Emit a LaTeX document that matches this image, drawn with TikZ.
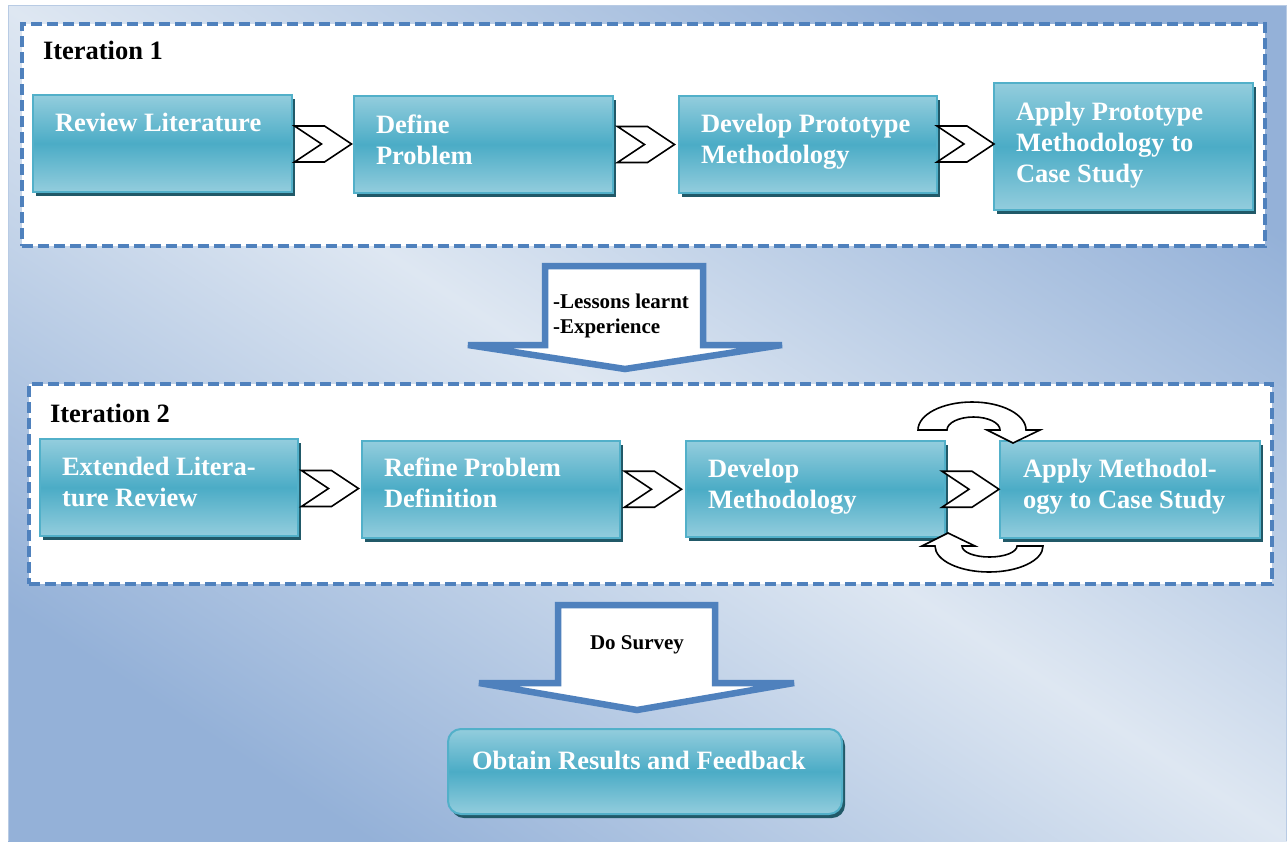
\documentclass[tikz,border=0pt]{standalone}
\usepackage{fontspec}
\setmainfont{Liberation Serif}
\usetikzlibrary{shadows,calc}
\definecolor{bgdark}{HTML}{94B1D8}
\definecolor{bglight}{HTML}{DEE7F2}
\definecolor{bgedge}{HTML}{B8CBE4}
\definecolor{frameblue}{HTML}{4F81BD}
\definecolor{boxlight}{HTML}{93CDDD}
\definecolor{boxmid}{HTML}{4BACC6}
\definecolor{boxedge}{HTML}{52B0C9}
\definecolor{boxshadow}{HTML}{215968}
\begin{document}
\begin{tikzpicture}[x=1pt,y=-1pt,
  every node/.style={inner sep=0pt, outer sep=0pt},
  iterframe/.style={draw=frameblue, fill=white, line width=3.2pt, dash pattern=on 11pt off 5pt, anchor=north west},
  stepbox/.style={draw=boxedge, line width=2pt, top color=boxlight, bottom color=boxlight, middle color=boxmid, anchor=north west,
    drop shadow={shadow xshift=3pt, shadow yshift=-4pt, fill=boxshadow, opacity=1}},
  boxtext/.style={anchor=north west, text=white, align=left, font=\bfseries\fontsize{26.5}{31}\selectfont},
  itertext/.style={anchor=base west, text=black, font=\bfseries\fontsize{26.5}{31}\selectfont},
  arrowtext/.style={text=black, align=left, font=\bfseries\fontsize{21}{25}\selectfont},
  chevron/.style={draw=black, fill=white, line width=1.6pt, line join=miter},
  curvearrow/.style={draw=black, fill=white, line width=1.6pt},
  bigarrow/.style={draw=frameblue, fill=white, line width=6.5pt, line join=miter},
  chev/.pic={\path[chevron] (-28.5,-18) -- (1.5,-18) -- (28.5,0) -- (1.5,18) -- (-28.5,18) -- (-1.5,0) -- cycle;}
]
\useasboundingbox (0,0) rectangle (1287,841);
% background
\fill[white] (0,0) rectangle (1287,841);
\shade[top color=bgdark, bottom color=bgdark, middle color=bglight, shading angle=-33] (8,5) rectangle (1287,841);
\draw[bgedge, line width=1.2pt] (8.6,841) -- (8.6,5.6) -- (1286.4,5.6) -- (1286.4,841);

% iteration frames
\node[iterframe, minimum width=1243pt, minimum height=222pt] (it1) at (22,24) {};
\node[iterframe, minimum width=1243pt, minimum height=200pt] (it2) at (29,384) {};
\node[itertext] (it1lab) at (43,59) {Iteration 1};
\node[itertext] (it2lab) at (50,422) {Iteration 2};

% iteration 1 boxes
\node[stepbox, minimum width=259pt, minimum height=97pt] (a1) at (33,95) {};
\node[stepbox, minimum width=259pt, minimum height=97pt] (a2) at (354,96) {};
\node[stepbox, minimum width=258pt, minimum height=97pt] (a3) at (679,96) {};
\node[stepbox, minimum width=259pt, minimum height=127pt] (a4) at (994,83) {};
\node[boxtext] (a1t) at (55,109.3) {\strut Review Literature};
\node[boxtext] (a2t) at (376,111.3) {\strut Define\\Problem};
\node[boxtext] (a3t) at (701,110.3) {\strut Develop Prototype\\Methodology};
\node[boxtext] (a4t) at (1016,98.3) {\strut Apply Prototype\\Methodology to\\Case Study};
\pic at ($(a1.east)!0.5!(a2.west)$) {chev};
\pic at ($(a2.east)!0.5!(a3.west)$) {chev};
\pic at ($(a3.east)!0.5!(a4.west)+(0,-1.5)$) {chev};

% iteration 2 boxes
\node[stepbox, minimum width=258pt, minimum height=97pt] (b1) at (40,439) {};
\node[stepbox, minimum width=258pt, minimum height=97pt] (b2) at (362,441) {};
\node[stepbox, minimum width=259pt, minimum height=96pt] (b3) at (686,441) {};
\node[stepbox, minimum width=260pt, minimum height=97pt] (b4) at (1000,441) {};
\node[boxtext] (b1t) at (62,453.3) {\strut Extended Litera-\\ture Review};
\node[boxtext] (b2t) at (384,454.3) {\strut Refine Problem\\Definition};
\node[boxtext] (b3t) at (708,455.3) {\strut Develop\\Methodology};
\node[boxtext] (b4t) at (1023,455.3) {\strut Apply Methodol-\\ogy to Case Study};
\pic at ($(b1.east)!0.5!(b2.west)$) {chev};
\pic at ($(b2.east)!0.5!(b3.west)$) {chev};
\pic at ($(b3.east)!0.5!(b4.west)+(-2,0)$) {chev};

% curved arrows around the last step
\path[curvearrow, shift={(b4.north west)}]
  (-82,-11) arc[start angle=180, end angle=360, x radius=54, y radius=28]
  -- (40,-11) -- (13,2) -- (-13,-11) -- (0,-11)
  arc[start angle=360, end angle=180, x radius=26.5, y radius=13]
  -- cycle;
\path[curvearrow, shift={(b4.south west)}]
  (-52,-5) -- (-25,8) -- (-38,8)
  arc[start angle=180, end angle=0, x radius=27.5, y radius=11]
  -- (43,8)
  arc[start angle=0, end angle=180, x radius=54, y radius=26]
  -- (-78,8) -- cycle;

% big arrows
\path[bigarrow] (545,266) -- (703,266) -- (703,345) -- (782,345) -- (625,369) -- (468,345) -- (545,345) -- cycle;
\node[arrowtext, anchor=north west] (lessons) at (553,290.5) {\strut -Lessons learnt\\-Experience};
\path[bigarrow] (558,605) -- (715,605) -- (715,683) -- (794,683) -- (637,710) -- (479,683) -- (558,683) -- cycle;
\node[arrowtext, anchor=base] (survey) at (637,649) {Do Survey};

% result box
\node[stepbox, rounded corners=13pt, minimum width=394pt, minimum height=85pt] (res) at (448,729) {};
\node[boxtext] (rest) at (472,747.3) {\strut Obtain Results and Feedback};
\end{tikzpicture}
\end{document}
